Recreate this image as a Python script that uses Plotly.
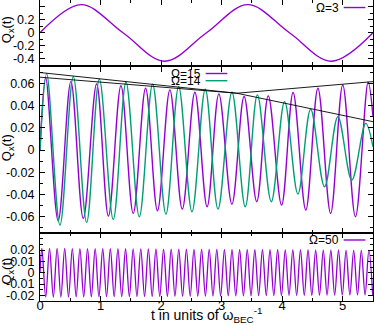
import plotly.graph_objects as go

# ---- data (extrema of each oscillation) ----
# top panel, Omega = 3
t_w3 = [0, 0.68, 1.37, 2.06, 2.75, 3.43, 4.12, 4.81, 5.5]
q_w3 = [0, 0.43, 0, -0.435, 0, 0.43, 0, -0.435, 0]

# middle panel, Omega = 15
t_w15 = [0, 0.094, 0.30, 0.51, 0.715, 0.935, 1.13, 1.337, 1.54, 1.744, 1.94,
         2.145, 2.35, 2.558, 2.76, 2.954, 3.17, 3.371, 3.58, 3.77, 3.99,
         4.18, 4.39, 4.59, 4.80, 5.0, 5.21, 5.42, 5.5]
q_w15 = [0, 0.065, -0.064, 0.0618, -0.0618, 0.0597, -0.0597, 0.058, -0.0573,
         0.0558, -0.0549, 0.0543, -0.0534, 0.0522, -0.0513, 0.0507, -0.0489,
         0.0483, -0.0467, 0.0489, -0.0498, 0.052, -0.0543, 0.0558, -0.0573,
         0.0588, -0.0603, 0.0612, 0.03]

# middle panel, Omega = 14
t_w14 = [0, 0.11, 0.33, 0.55, 0.77, 0.98, 1.21, 1.42, 1.64, 1.86, 2.08, 2.29,
         2.51, 2.73, 2.94, 3.17, 3.39, 3.59, 3.82, 4.04, 4.26, 4.47, 4.70,
         4.92, 5.15, 5.38, 5.5]
q_w14 = [0, 0.069, -0.0679, 0.0663, -0.0654, 0.064, -0.0627, 0.0612, -0.0603,
         0.0594, -0.0579, 0.0573, -0.0558, 0.0549, -0.0534, 0.0522, -0.0513,
         0.0498, -0.0467, 0.0437, -0.0398, 0.0368, -0.0332, 0.0301, -0.0271,
         0.0241, 0.003]

# black guide lines in the middle panel
t_guide = [0, 3.25, 5.5]
q_guide_a = [0.070, 0.0513, 0.0256]
q_guide_b = [0.0658, 0.0513, 0.0618]

# bottom panel, Omega = 50
t_w50 = [0, 0.031, 0.094, 0.157, 0.220, 0.283, 0.345, 0.408, 0.471, 0.534,
         0.597, 0.659, 0.722, 0.785, 0.848, 0.911, 0.973, 1.036, 1.099,
         1.162, 1.225, 1.287, 1.350, 1.413, 1.476, 1.539, 1.601, 1.664,
         1.727, 1.790, 1.853, 1.915, 1.978, 2.041, 2.104, 2.167, 2.229,
         2.292, 2.355, 2.418, 2.481, 2.543, 2.606, 2.669, 2.732, 2.795,
         2.857, 2.920, 2.983, 3.046, 3.109, 3.171, 3.234, 3.297, 3.360,
         3.423, 3.485, 3.548, 3.611, 3.674, 3.737, 3.799, 3.862, 3.925,
         3.988, 4.051, 4.113, 4.176, 4.239, 4.302, 4.365, 4.427, 4.490,
         4.553, 4.616, 4.679, 4.741, 4.804, 4.867, 4.930, 4.993, 5.055,
         5.118, 5.181, 5.244, 5.307, 5.369, 5.432, 5.495]
q_w50 = [0,
         0.0215, -0.0215, 0.0215, -0.0215, 0.0215, -0.0215, 0.0215, -0.0215,
         0.0213, -0.0213, 0.0213, -0.0213, 0.0213, -0.0213, 0.0213, -0.0213,
         0.0211, -0.0211, 0.0211, -0.0211, 0.0211, -0.0211, 0.0211, -0.0211,
         0.021, -0.021, 0.021, -0.021, 0.021, -0.021, 0.021, -0.021,
         0.0208, -0.0208, 0.0208, -0.0208, 0.0208, -0.0208, 0.0208, -0.0208,
         0.0206, -0.0206, 0.0206, -0.0206, 0.0206, -0.0206, 0.0206, -0.0206,
         0.0204, -0.0204, 0.0204, -0.0204, 0.0204, -0.0204, 0.0204, -0.0204,
         0.0202, -0.0202, 0.0202, -0.0202, 0.0202, -0.0202, 0.0202, -0.0202,
         0.02, -0.02, 0.02, -0.02, 0.02, -0.02, 0.02, -0.02,
         0.0198, -0.0198, 0.0198, -0.0198, 0.0198, -0.0198, 0.0198, -0.0198,
         0.0196, -0.0196, 0.0196, -0.0196, 0.0196, -0.0196, 0.0196, -0.0196]

# ticks
x_ticks = [0, 1, 2, 3, 4, 5]
x_labels = ['0', '1', '2', '3', '4', '5']
y1_ticks = [-0.4, -0.2, 0, 0.2, 0.4]
y1_labels = ['-0.4', '-0.2', '0', '0.2', '0.4']
y2_ticks = [-0.06, -0.04, -0.02, 0, 0.02, 0.04, 0.06]
y2_labels = ['-0.06', '-0.04', '-0.02', '0', '0.02', '0.04', '0.06']
y3_ticks = [-0.02, -0.01, 0, 0.01, 0.02]
y3_labels = ['-0.02', '-0.01', '0', '0.01', '0.02']

PURPLE = '#9400d3'
GREEN = '#009e73'
FONT = 'Liberation Sans'

fig = go.Figure()

fig.add_trace(go.Scatter(x=t_w3, y=q_w3, mode='lines', xaxis='x', yaxis='y',
                         line=dict(color=PURPLE, width=1.4, shape='spline')))

fig.add_trace(go.Scatter(x=t_w15, y=q_w15, mode='lines', xaxis='x2', yaxis='y2',
                         line=dict(color=PURPLE, width=1.4, shape='spline')))
fig.add_trace(go.Scatter(x=t_w14, y=q_w14, mode='lines', xaxis='x2', yaxis='y2',
                         line=dict(color=GREEN, width=1.4, shape='spline')))
fig.add_trace(go.Scatter(x=t_guide, y=q_guide_a, mode='lines', xaxis='x2', yaxis='y2',
                         line=dict(color='black', width=0.9)))
fig.add_trace(go.Scatter(x=t_guide, y=q_guide_b, mode='lines', xaxis='x2', yaxis='y2',
                         line=dict(color='black', width=0.9)))

fig.add_trace(go.Scatter(x=t_w50, y=q_w50, mode='lines', xaxis='x3', yaxis='y3',
                         line=dict(color=PURPLE, width=1.3, shape='spline')))


def x_axis(anchor, labels):
    return dict(
        anchor=anchor, domain=[0, 1], range=[0, 5.5], automargin=False,
        showline=True, linecolor='black', linewidth=1, mirror='ticks',
        ticks='inside', ticklen=5, tickcolor='black',
        tickvals=x_ticks, ticktext=x_labels, showticklabels=labels,
        tickfont=dict(size=13), ticklabelstandoff=-8,
        showgrid=False, zeroline=False,
        minor=dict(ticks='inside', ticklen=3, tickcolor='black', tick0=0, dtick=0.5),
    )


def y_axis(anchor, dom, rng, vals, text, mdt):
    return dict(
        anchor=anchor, domain=dom, range=rng, automargin=False,
        showline=True, linecolor='black', linewidth=1, mirror='ticks',
        ticks='inside', ticklen=5, tickcolor='black',
        tickvals=vals, ticktext=text, ticklabelstandoff=2,
        tickfont=dict(size=12.5),
        showgrid=False, zeroline=False,
        minor=dict(ticks='inside', ticklen=3, tickcolor='black', tick0=0, dtick=mdt),
    )


fig.update_layout(
    width=374, height=325,
    margin=dict(l=40, r=1, t=0, b=24),
    paper_bgcolor='white', plot_bgcolor='white',
    showlegend=False,
    font=dict(family=FONT, size=12, color='black'),
    xaxis=x_axis('y', False),
    xaxis2=x_axis('y2', False),
    xaxis3=x_axis('y3', True),
    yaxis=y_axis('x', [0.7824, 1], [-0.5, 0.5], y1_ticks, y1_labels, 0.1),
    yaxis2=y_axis('x2', [0.2259, 0.7774], [-0.075, 0.075], y2_ticks, y2_labels, 0.01),
    yaxis3=y_axis('x3', [0, 0.2259], [-0.025, 0.035], y3_ticks, y3_labels, 0.005),
)

# y titles
for yc in [0.902, 0.51, 0.10]:
    fig.add_annotation(text='Q<sub>x</sub>(t)', xref='paper', yref='paper',
                       x=-0.097, y=yc, xanchor='center', yanchor='middle',
                       textangle=-90, showarrow=False, font=dict(size=13))

# x title
fig.add_annotation(text='t in units of ω<sub>BEC</sub><sup>-1</sup>', xref='paper',
                   yref='paper', x=0.5, y=-0.046, yanchor='middle', showarrow=False,
                   font=dict(size=14))

# keys: text left of a short line sample
keys = [('Ω=3', 0.975, PURPLE, 0.907), ('Ω=15', 0.7558, PURPLE, 0.4925),
        ('Ω=14', 0.7319, GREEN, 0.4925), ('Ω=50', 0.2027, PURPLE, 0.907)]
for label, ky, col, kx in keys:
    fig.add_annotation(text=label, xref='paper', yref='paper', x=kx, y=ky,
                       xanchor='right', yanchor='middle', showarrow=False,
                       font=dict(size=12), xshift=-1)
    fig.add_shape(type='line', xref='paper', yref='paper', x0=kx + 0.005,
                  x1=kx + 0.07, y0=ky, y1=ky, line=dict(color=col, width=1.4))

# page body has a default 8px margin; drop it so the figure sits at the corner
fig.write_html('out.html', config={'displayModeBar': False},
               post_script="document.body.style.margin='0';")
